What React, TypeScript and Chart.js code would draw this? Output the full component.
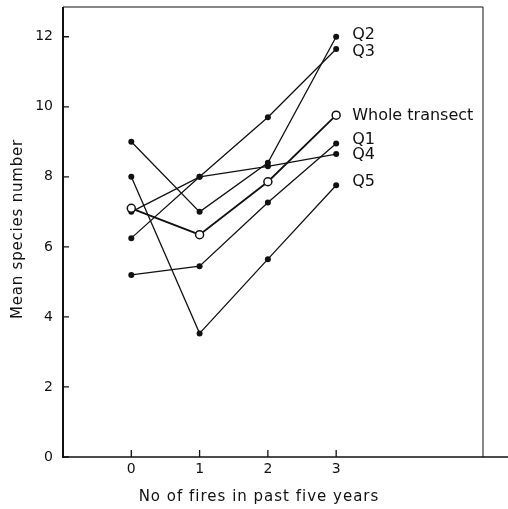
import React, { useEffect, useRef } from "react";
import { Chart, registerables } from "chart.js";

Chart.register(...registerables);

// ---- data ----
const fires = [0, 1, 2, 3];
const q1 = [5.2, 5.45, 7.27, 8.95];
const q2 = [9.0, 7.0, 8.4, 12.0];
const q3 = [6.25, 8.0, 9.7, 11.65];
const q4 = [7.0, 8.0, 8.3, 8.65];
const q5 = [8.0, 3.53, 5.65, 7.76];
const whole = [7.1, 6.35, 7.86, 9.76];
const seriesNames = ["Q1", "Q2", "Q3", "Q4", "Q5", "Whole transect"];
const yTicks = [0, 2, 4, 6, 8, 10, 12];
const xTicks = [0, 1, 2, 3];
const xTitle = "No of fires in past five years";
const yTitle = "Mean species number";

const INK = "#111111";
const FONT = "DejaVu Sans, Liberation Sans, sans-serif";

// small vertical nudges (px) so the end labels sit as in the original
const labelNudge: Record<string, number> = {
  Q2: -2,
  Q3: 3,
  "Whole transect": 1,
  Q1: -4,
  Q4: 1,
  Q5: -3,
};

const framePlugin = {
  id: "frame",
  afterDraw(chart: any) {
    const { ctx, chartArea, scales } = chart;
    const { left, right, top, bottom } = chartArea;
    ctx.save();
    ctx.strokeStyle = INK;
    ctx.lineCap = "butt";
    // left axis (thick)
    ctx.lineWidth = 2;
    ctx.beginPath();
    ctx.moveTo(left, top);
    ctx.lineTo(left, bottom + 1);
    ctx.stroke();
    // bottom axis extends past the frame
    ctx.lineWidth = 1.5;
    ctx.beginPath();
    ctx.moveTo(left, bottom);
    ctx.lineTo(chart.width, bottom);
    ctx.stroke();
    // top and right (thin)
    ctx.lineWidth = 1;
    ctx.beginPath();
    ctx.moveTo(left, top);
    ctx.lineTo(right, top);
    ctx.moveTo(right, top);
    ctx.lineTo(right, bottom);
    ctx.stroke();
    // inward ticks
    ctx.lineWidth = 1.3;
    ctx.beginPath();
    for (const v of yTicks) {
      const py = scales.y.getPixelForValue(v);
      ctx.moveTo(left, py);
      ctx.lineTo(left + 6, py);
    }
    for (const v of xTicks) {
      const px = scales.x.getPixelForValue(v);
      ctx.moveTo(px, bottom);
      ctx.lineTo(px, bottom - 7);
    }
    ctx.stroke();

    // series labels at the right-hand ends
    ctx.fillStyle = INK;
    ctx.font = `16px ${FONT}`;
    ctx.textAlign = "left";
    ctx.textBaseline = "middle";
    chart.data.datasets.forEach((ds: any, i: number) => {
      const meta = chart.getDatasetMeta(i);
      const last = meta.data[meta.data.length - 1];
      ctx.fillText(ds.label, last.x + 16, last.y + (labelNudge[ds.label] || 0));
    });

    // axis titles
    ctx.textAlign = "center";
    ctx.textBaseline = "middle";
    ctx.font = `15px ${FONT}`;
    (ctx as any).letterSpacing = "1px";
    ctx.fillText(xTitle, 259, 497);
    (ctx as any).letterSpacing = "0.8px";
    ctx.save();
    ctx.translate(18, 229);
    ctx.rotate(-Math.PI / 2);
    ctx.fillText(yTitle, 0, 0);
    ctx.restore();
    (ctx as any).letterSpacing = "0px";
    ctx.restore();
  },
};

function makeDataset(label: string, values: number[], open = false) {
  return {
    label,
    data: fires.map((f, i) => ({ x: f, y: values[i] })),
    borderColor: INK,
    borderWidth: open ? 1.8 : 1.3,
    pointRadius: open ? 4 : 3,
    pointBackgroundColor: open ? "#ffffff" : INK,
    pointBorderColor: INK,
    pointBorderWidth: open ? 1.5 : 0,
    fill: false,
    tension: 0,
  };
}

export default function App() {
  const ref = useRef<HTMLCanvasElement>(null);
  useEffect(() => {
    document.body.style.margin = "0";
    const canvas = ref.current!;
    const chart = new Chart(canvas, {
      type: "line",
      data: {
        datasets: [
          makeDataset(seriesNames[1], q2),
          makeDataset(seriesNames[2], q3),
          makeDataset(seriesNames[5], whole, true),
          makeDataset(seriesNames[0], q1),
          makeDataset(seriesNames[3], q4),
          makeDataset(seriesNames[4], q5),
        ],
      },
      options: {
        animation: false,
        responsive: false,
        devicePixelRatio: 1,
        layout: { padding: { top: 7, right: 25, left: 0, bottom: 0 } },
        plugins: { legend: { display: false }, tooltip: { enabled: false } },
        scales: {
          x: {
            type: "linear",
            min: -1,
            max: 5.15,
            afterBuildTicks: (s: any) => {
              s.ticks = xTicks.map((v) => ({ value: v }));
            },
            afterFit: (s: any) => {
              s.height = 52;
              s.paddingLeft = 0;
              s.paddingRight = 0;
            },
            grid: { display: false, drawTicks: false },
            border: { display: false },
            ticks: {
              padding: 4,
              color: INK,
              font: { family: FONT, size: 14 },
              autoSkip: false,
              maxRotation: 0,
            },
          },
          y: {
            type: "linear",
            min: 0,
            max: 12.85,
            afterBuildTicks: (s: any) => {
              s.ticks = yTicks.map((v) => ({ value: v }));
            },
            afterFit: (s: any) => {
              s.width = 63;
              s.paddingTop = 0;
              s.paddingBottom = 0;
            },
            grid: { display: false, drawTicks: false },
            border: { display: false },
            ticks: {
              padding: 10,
              color: INK,
              font: { family: FONT, size: 14 },
            },
          },
        },
      },
      plugins: [framePlugin],
    });
    return () => chart.destroy();
  }, []);
  return <canvas ref={ref} width={508} height={509} style={{ display: "block" }} />;
}
